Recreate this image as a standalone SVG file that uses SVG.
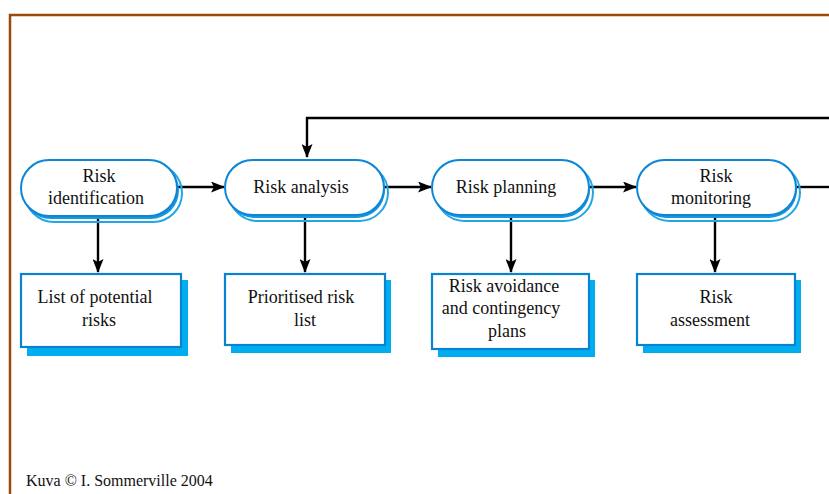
<svg xmlns="http://www.w3.org/2000/svg" width="829" height="494" viewBox="0 0 829 494">
<style>
.t{font-family:"Liberation Serif","Times New Roman",serif;font-size:18px;fill:#111;text-anchor:middle}
.sh1{fill:none;stroke:#22a6e6;stroke-width:2}
.sh2{fill:#1596dd;stroke:none}
.main{fill:#fff;stroke:#0d86d6;stroke-width:2}
.bsh{fill:#00aeef}
.box{fill:#fff;stroke:#0a82d2;stroke-width:2.2}
.ln{fill:none;stroke:#000;stroke-width:2.4}
</style>
<defs>
<marker id="ah" viewBox="0 0 14 11" refX="13" refY="5.5" markerWidth="14" markerHeight="11" markerUnits="userSpaceOnUse" orient="auto">
<path d="M0,0 L14,5.5 L0,11 L3,5.5 Z" fill="#000"/>
</marker>
</defs>
<rect width="829" height="494" fill="#fff"/>
<path d="M10,494 V15 H829" fill="none" stroke="#9a4a0a" stroke-width="2.5"/>

<g id="connectors">
<path class="ln" d="M178,187 H224" marker-end="url(#ah)"/>
<path class="ln" d="M385,187 H431" marker-end="url(#ah)"/>
<path class="ln" d="M590,187 H636" marker-end="url(#ah)"/>
<path class="ln" d="M797,187 H829"/>
<path class="ln" d="M829,118 H307 V157" marker-end="url(#ah)"/>
<path class="ln" d="M98,217 V272" marker-end="url(#ah)"/>
<path class="ln" d="M305,216 V272" marker-end="url(#ah)"/>
<path class="ln" d="M511,216 V272" marker-end="url(#ah)"/>
<path class="ln" d="M715,216 V272" marker-end="url(#ah)"/>
</g>

<g id="n1">
<rect class="sh1" x="25" y="164" width="157" height="58" rx="29"/>
<rect class="sh2" x="22" y="162" width="157" height="57" rx="28.5"/>
<rect class="main" x="21" y="160" width="156" height="56" rx="28"/>
<text class="t" x="99" y="182">Risk</text>
<text class="t" x="96" y="204">identification</text>
</g>
<g id="n2">
<rect class="sh1" x="229" y="164" width="159" height="57" rx="28.5"/>
<rect class="sh2" x="226" y="162" width="159" height="56" rx="28"/>
<rect class="main" x="225" y="160" width="159" height="55" rx="27.5"/>
<text class="t" x="301" y="193">Risk analysis</text>
</g>
<g id="n3">
<rect class="sh1" x="436" y="164" width="157" height="57" rx="28.5"/>
<rect class="sh2" x="433" y="162" width="157" height="56" rx="28"/>
<rect class="main" x="432" y="160" width="157" height="55" rx="27.5"/>
<text class="t" x="506" y="193">Risk planning</text>
</g>
<g id="n4">
<rect class="sh1" x="641" y="164" width="159" height="57" rx="28.5"/>
<rect class="sh2" x="638" y="162" width="159" height="56" rx="28"/>
<rect class="main" x="637" y="160" width="159" height="55" rx="27.5"/>
<text class="t" x="716" y="182">Risk</text>
<text class="t" x="711" y="204">monitoring</text>
</g>

<g id="b1">
<rect class="bsh" x="27" y="280" width="161" height="76"/>
<rect class="box" x="21" y="274" width="160" height="73"/>
<text class="t" x="95" y="303">List of potential</text>
<text class="t" x="99" y="326">risks</text>
</g>
<g id="b2">
<rect class="bsh" x="231" y="280" width="160" height="73"/>
<rect class="box" x="225" y="274" width="160" height="71"/>
<text class="t" x="301" y="303">Prioritised risk</text>
<text class="t" x="305" y="326">list</text>
</g>
<g id="b3">
<rect class="bsh" x="438" y="280" width="157" height="77"/>
<rect class="box" x="432" y="274" width="157" height="75"/>
<text class="t" x="504" y="292">Risk avoidance</text>
<text class="t" x="501" y="314">and contingency</text>
<text class="t" x="507" y="337">plans</text>
</g>
<g id="b4">
<rect class="bsh" x="643" y="280" width="158" height="73"/>
<rect class="box" x="637" y="274" width="158" height="71"/>
<text class="t" x="716" y="303">Risk</text>
<text class="t" x="710" y="326">assessment</text>
</g>

<text x="26" y="486" style="font-family:'Liberation Serif','Times New Roman',serif;font-size:16px;fill:#111">Kuva © I. Sommerville 2004</text>
</svg>
